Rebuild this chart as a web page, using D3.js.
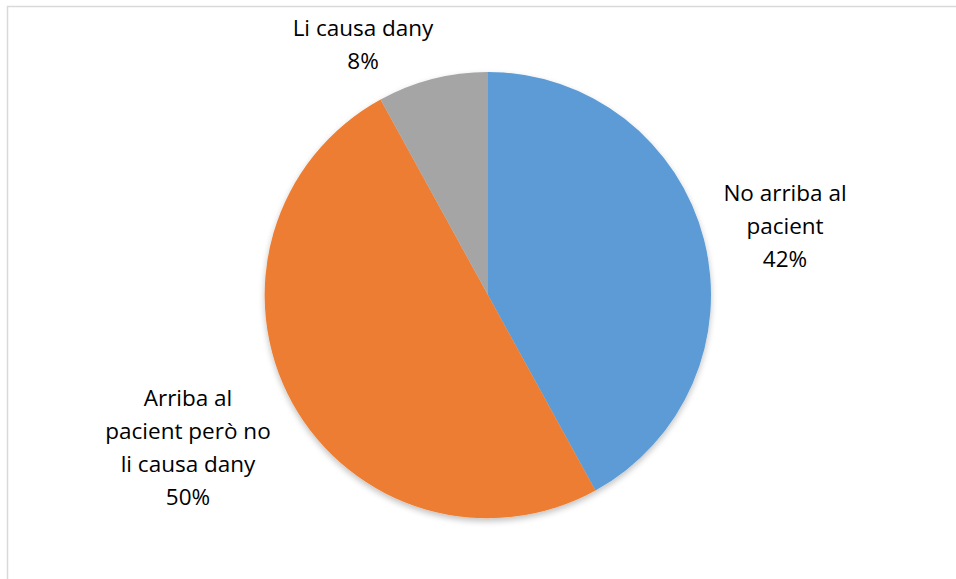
<!DOCTYPE html>
<html>
<head>
<meta charset="utf-8">
<script src="https://cdn.jsdelivr.net/npm/d3@7"></script>
<style>
  body { margin: 0; background: #fff; }
  text { font-family: "Open Sans", "Noto Sans", sans-serif; fill: #000; }
</style>
</head>
<body>
<div id="chart"></div>
<script>
(function() {
    var width = 956,
        height = 579;

    // data
    var categories = ["No arriba al pacient", "Arriba al pacient però no li causa dany", "Li causa dany"];
    var values = [42, 50, 8];
    var labelLines = [
        ["No arriba al", "pacient", "42%"],
        ["Arriba al", "pacient però no", "li causa dany", "50%"],
        ["Li causa dany", "8%"]
    ];
    var colors = ["#5B9BD5", "#ED7D31", "#A5A5A5"];

    var cx = 488, cy = 295, radius = 223;

    var colorScale = d3.scaleOrdinal().domain(categories).range(colors);

    var svg = d3.select("#chart")
        .append("svg")
        .attr("width", width)
        .attr("height", height);

    // chart border (only top and left visible)
    svg.append("rect")
        .attr("x", 7.5)
        .attr("y", 6.5)
        .attr("width", width + 10)
        .attr("height", height + 10)
        .attr("fill", "none")
        .attr("stroke", "#d9d9d9")
        .attr("stroke-width", 1.5);

    var defs = svg.append("defs");
    var filter = defs.append("filter")
        .attr("id", "shadow")
        .attr("x", "-10%").attr("y", "-10%")
        .attr("width", "120%").attr("height", "120%");
    filter.append("feGaussianBlur").attr("in", "SourceAlpha").attr("stdDeviation", 3);
    filter.append("feOffset").attr("dx", 0).attr("dy", 3).attr("result", "blur");
    filter.append("feComponentTransfer").append("feFuncA").attr("type", "linear").attr("slope", 0.25);
    var merge = filter.append("feMerge");
    merge.append("feMergeNode");
    merge.append("feMergeNode").attr("in", "SourceGraphic");

    var pie = d3.pie().sort(null).value(function(d) { return d; });
    var arc = d3.arc().innerRadius(0).outerRadius(radius);

    var arcs = pie(values);

    var g = svg.append("g")
        .attr("transform", "translate(" + cx + "," + cy + ")");

    g.append("g")
        .attr("filter", "url(#shadow)")
        .selectAll("path")
        .data(arcs)
        .enter().append("path")
        .attr("d", arc)
        .attr("fill", function(d, i) { return colorScale(categories[i]); });

    // label positions (centre of first line), relative to pie centre
    var labelPos = [
        [297, -102],
        [-300, 103],
        [-125, -267]
    ];
    var lineHeight = 33;

    var labels = svg.selectAll(".pie-label")
        .data(arcs)
        .enter().append("text")
        .attr("class", "pie-label")
        .attr("text-anchor", "middle")
        .attr("font-size", 22.5)
        .attr("transform", function(d, i) {
            return "translate(" + (cx + labelPos[i][0]) + "," + (cy + labelPos[i][1]) + ")";
        });

    labels.each(function(d, i) {
        var t = d3.select(this);
        labelLines[i].forEach(function(line, j) {
            t.append("tspan")
                .attr("x", 0)
                .attr("y", j * lineHeight)
                .attr("dy", "0.35em")
                .text(line);
        });
    });
})();
</script>
</body>
</html>
